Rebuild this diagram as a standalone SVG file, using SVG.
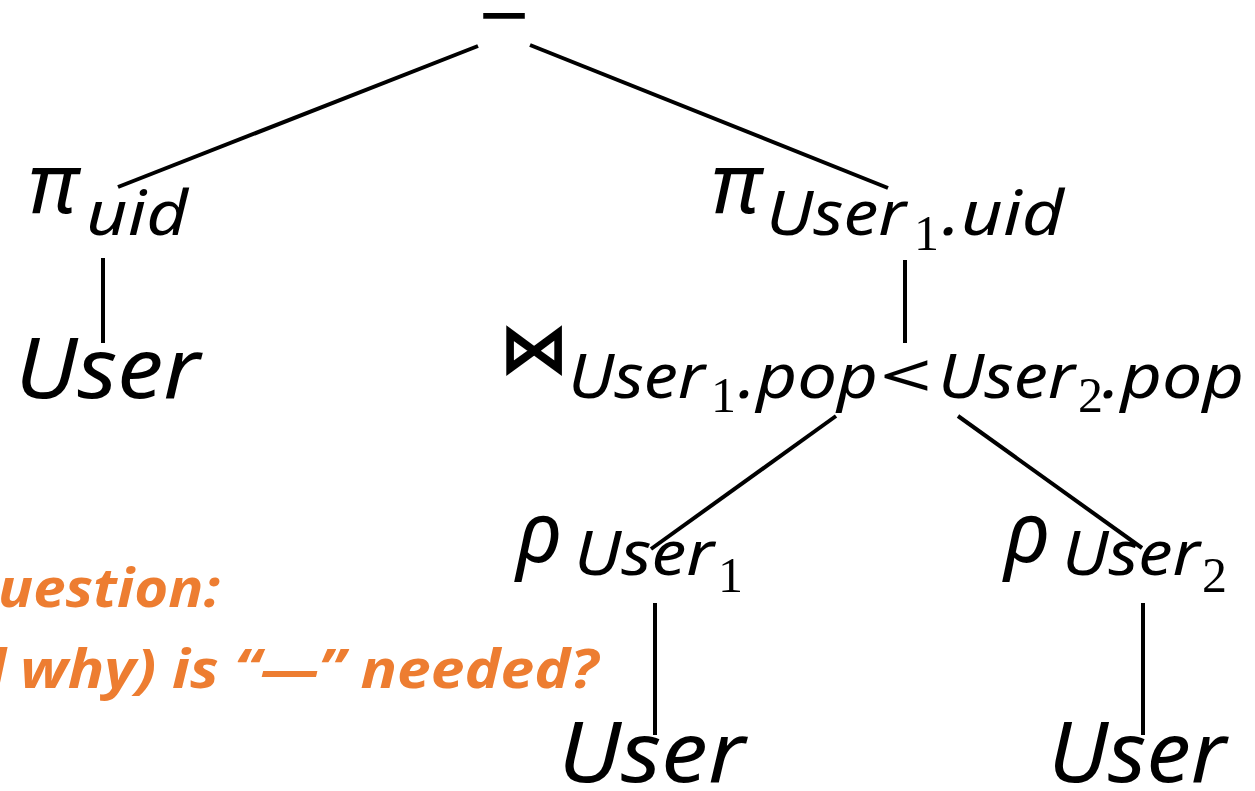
<svg xmlns="http://www.w3.org/2000/svg" width="1255" height="791" viewBox="0 0 1255 791">
<style>
.m{font-family:"Noto Sans","Liberation Sans",sans-serif;font-style:italic;fill:#000}
.g{font-family:"Noto Sans","Liberation Sans",sans-serif;fill:#000}
.d{font-family:"Liberation Serif",serif;fill:#000;font-size:50px}
.big{font-size:84px}
.sub{font-size:62px}
.gr{font-size:84px;font-style:italic}
.q{font-family:"Open Sans","Liberation Sans",sans-serif;font-weight:bold;font-style:italic;font-size:54px;fill:#ED7D31}
.e{stroke:#000;stroke-width:4;fill:none}
</style>
<rect width="1255" height="791" fill="#fff"/>
<g id="connectors">
<line class="e" x1="478" y1="46" x2="118" y2="187"/>
<line class="e" x1="530" y1="45" x2="888" y2="188"/>
<line class="e" x1="103" y1="258" x2="103" y2="343"/>
<line class="e" x1="905" y1="260" x2="905" y2="343"/>
<line class="e" x1="836" y1="416" x2="651" y2="549"/>
<line class="e" x1="958" y1="416" x2="1142" y2="548"/>
<line class="e" x1="655" y1="603" x2="655" y2="735"/>
<line class="e" x1="1143" y1="603" x2="1143" y2="735"/>
</g>
<g id="minus">
<text x="504" y="43" text-anchor="middle" textLength="50" lengthAdjust="spacingAndGlyphs" style="font-family:'Liberation Sans',sans-serif;font-size:82px">−</text>
</g>
<g id="proj-uid">
<text class="g gr" x="28" y="213">π</text>
<text class="m sub" x="86" y="235" textLength="102" lengthAdjust="spacingAndGlyphs">uid</text>
</g>
<g id="user-left">
<text class="m big" x="15" y="398" textLength="185" lengthAdjust="spacingAndGlyphs">User</text>
</g>
<g id="proj-user1-uid">
<text class="g gr" x="711" y="213">π</text>
<text class="m sub" x="766" y="235" textLength="140" lengthAdjust="spacingAndGlyphs">User</text>
<text class="d" x="914" y="250">1</text>
<text class="m sub" x="942" y="235" textLength="122" lengthAdjust="spacingAndGlyphs">.uid</text>
</g>
<g id="join">
<text x="500" y="372" stroke="#000" stroke-width="2" style="font-family:'DejaVu Sans',sans-serif;font-size:68px">⋈</text>
<text class="m sub" x="568" y="398" textLength="137" lengthAdjust="spacingAndGlyphs">User</text>
<text class="d" x="711" y="412">1</text>
<text class="m sub" x="738" y="398" textLength="140" lengthAdjust="spacingAndGlyphs">.pop</text>
<text class="g sub" x="880" y="398" textLength="52" lengthAdjust="spacingAndGlyphs">&lt;</text>
<text class="m sub" x="938" y="398" textLength="137" lengthAdjust="spacingAndGlyphs">User</text>
<text class="d" x="1078" y="412">2</text>
<text class="m sub" x="1102" y="398" textLength="142" lengthAdjust="spacingAndGlyphs">.pop</text>
</g>
<g id="rho-user1">
<text class="g gr" x="516" y="562">ρ</text>
<text class="m sub" x="574" y="575" textLength="140" lengthAdjust="spacingAndGlyphs">User</text>
<text class="d" x="718" y="592">1</text>
</g>
<g id="rho-user2">
<text class="g gr" x="1004" y="562">ρ</text>
<text class="m sub" x="1062" y="575" textLength="138" lengthAdjust="spacingAndGlyphs">User</text>
<text class="d" x="1202" y="592">2</text>
</g>
<g id="user-bottom-1">
<text class="m big" x="558" y="782" textLength="187" lengthAdjust="spacingAndGlyphs">User</text>
</g>
<g id="user-bottom-2">
<text class="m big" x="1048" y="782" textLength="178" lengthAdjust="spacingAndGlyphs">User</text>
</g>
<g id="question">
<text class="q" x="-2" y="607" textLength="222" lengthAdjust="spacingAndGlyphs">uestion:</text>
<text class="q" x="-26" y="688">d</text>
<text class="q" x="20" y="688" textLength="578" lengthAdjust="spacingAndGlyphs">why) is “—” needed?</text>
</g>
</svg>
